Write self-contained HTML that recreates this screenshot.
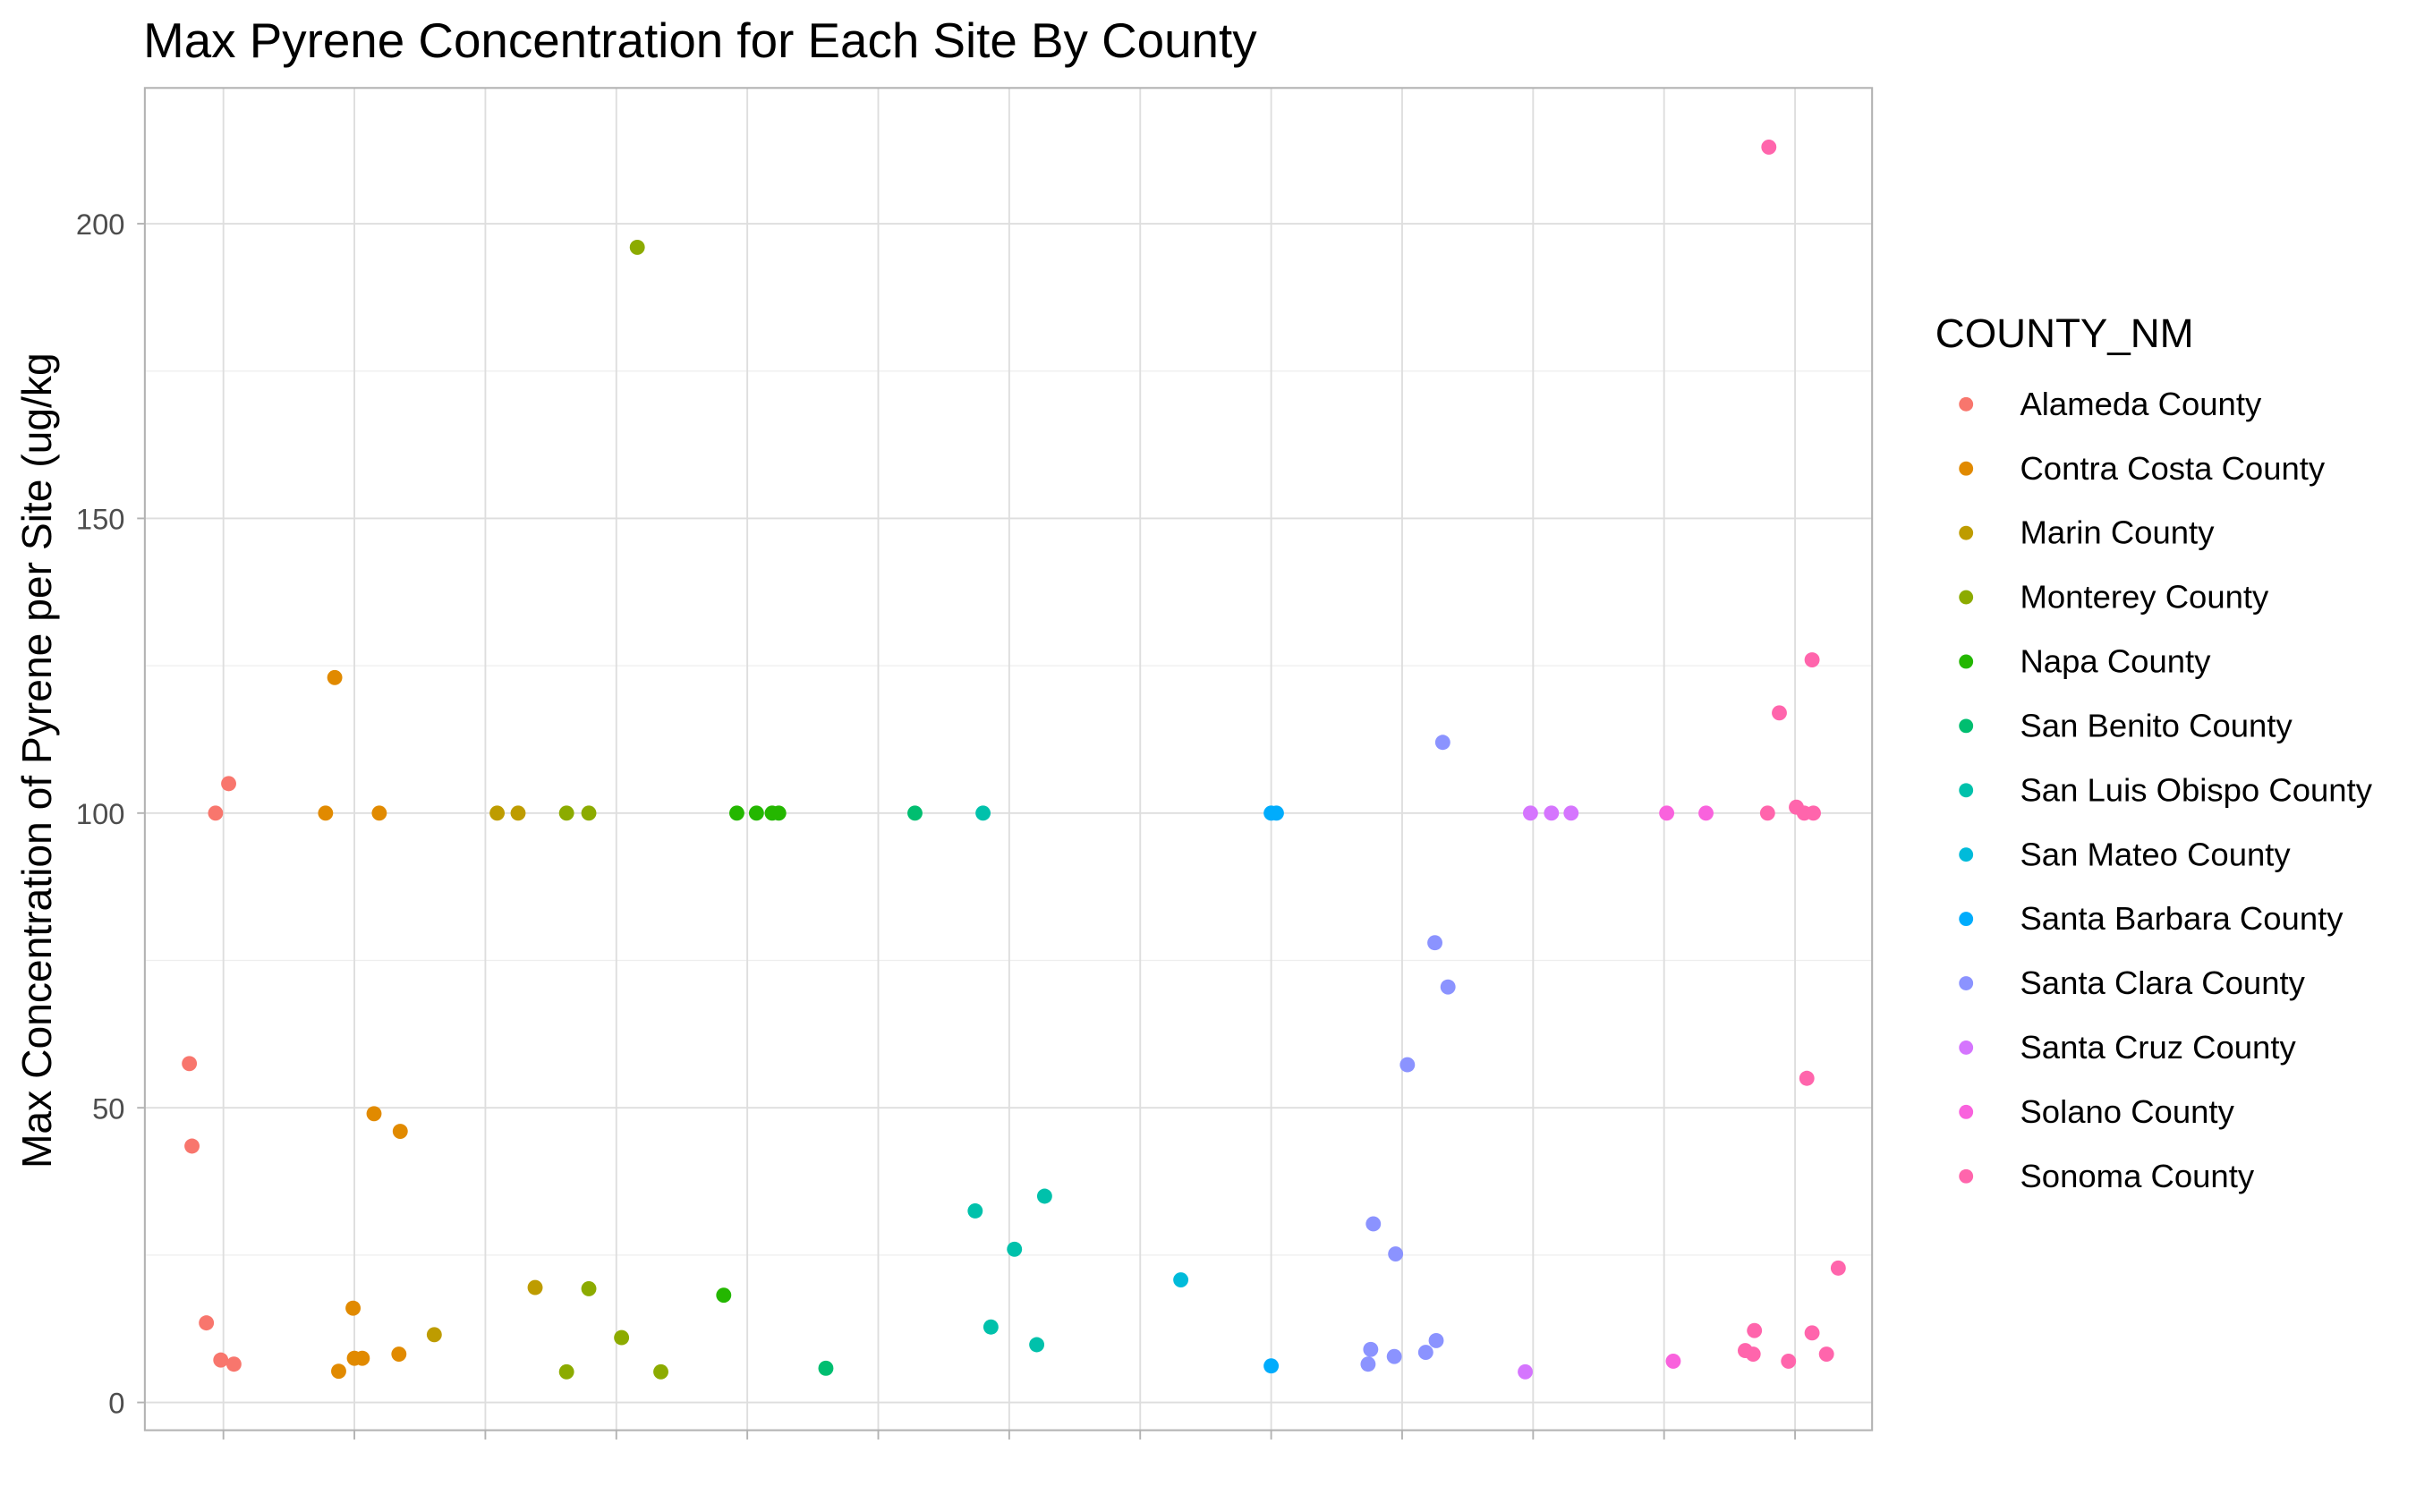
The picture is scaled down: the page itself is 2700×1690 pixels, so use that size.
<!DOCTYPE html>
<html><head><meta charset="utf-8"><style>
html,body{margin:0;padding:0;background:#fff;}
svg{display:block;font-family:"Liberation Sans",Arial,sans-serif;}
</style></head><body>
<svg id="chart" width="2700" height="1690" viewBox="0 0 1568 980" preserveAspectRatio="none" xmlns="http://www.w3.org/2000/svg">
<rect width="1568" height="981" fill="#fff"/>
<text x="93" y="37" font-size="31.8" fill="#000">Max Pyrene Concentration for Each Site By County</text>
<g id="grid"></g>
<g id="points"></g>
<rect x="94" y="57" width="1121" height="870" fill="none" stroke="#b3b3b3" stroke-width="1.2"/>
<g id="axes"></g>
<text transform="translate(33,493) rotate(-90)" text-anchor="middle" font-size="26.8" fill="#000">Max Concentration of Pyrene per Site (ug/kg</text>
<g id="legend">
<text x="1256" y="225" font-size="26.5" fill="#000">COUNTY_NM</text>
</g>
</svg>
<script>
const categories = ["Alameda County","Contra Costa County","Marin County","Monterey County","Napa County","San Benito County","San Luis Obispo County","San Mateo County","Santa Barbara County","Santa Clara County","Santa Cruz County","Solano County","Sonoma County"];
const colors = ["#F8766D","#E18A00","#BE9C00","#8CAB00","#24B700","#00BE70","#00C1AB","#00BBDA","#00ACFC","#8B93FF","#D575FE","#F962DD","#FF65AC"];
const yTicks = [0,50,100,150,200];
// each point: category index, jitter (category units), value
const pointCat = [0,0,0,0,0,0,0, 1,1,1,1,1,1,1,1,1,1, 2,2,2,2, 3,3,3,3,3,3,3, 4,4,4,4,4, 5,5, 6,6,6,6,6,6, 7, 8,8,8, 9,9,9,9,9,9,9,9,9,9,9, 10,10,10,10, 11,11,11, 12,12,12,12,12,12,12,12,12,12,12,12,12,12,12];
const pointJitter = [-0.26,-0.24,-0.13,-0.02,0.08,-0.06,0.04, -0.15,-0.22,0.19,0.15,0.35,-0.01,-0.12,0.0,0.06,0.34, 0.09,0.25,0.38,-0.39, -0.38,-0.21,0.16,-0.38,-0.21,0.04,0.34, -0.08,0.07,0.19,0.24,-0.18, 0.28,-0.40, -0.2,-0.26,0.04,-0.14,0.21,0.27, 0.31, 0.0,0.04,0.0, 0.31,0.25,0.35,0.04,-0.22,-0.05,-0.24,-0.26,-0.06,0.18,0.26, -0.02,0.14,0.29,-0.06, 0.02,0.32,0.07, -0.2,0.13,-0.12,-0.21,0.01,0.07,0.14,0.09,0.33,-0.31,0.13,-0.38,-0.32,-0.05,0.24];
const pointValue = [57.5,43.5,13.5,7.2,6.5,100,105, 123,100,100,49,46,16,5.3,7.5,7.5,8.2, 100,100,19.5,11.5, 100,100,196,5.2,19.3,11,5.2, 100,100,100,100,18.2, 100,5.8, 100,32.5,26,12.8,9.8,35, 20.8, 100,100,6.2, 112,78,70.5,57.3,30.3,25.2,9,6.5,7.8,8.5,10.5, 100,100,100,5.2, 100,100,7, 213,126,117,100,101,100,100,55,22.8,12.2,11.8,8.8,8.2,7,8.2];

const NS="http://www.w3.org/2000/svg";
const x0=145, dx=85, yBase=909, yScale=(909-145)/200;
function xPos(c,j){return x0+(c+j)*dx;}
function yPos(v){return yBase-v*yScale;}
function mk(tag,attrs,parent){const e=document.createElementNS(NS,tag);for(const k in attrs)e.setAttribute(k,attrs[k]);parent.appendChild(e);return e;}
const grid=document.getElementById('grid'), pts=document.getElementById('points'), axes=document.getElementById('axes'), leg=document.getElementById('legend');
for(let i=0;i<yTicks.length-1;i++){const v=(yTicks[i]+yTicks[i+1])/2;
 const l=mk('line',{x1:94,x2:1215,y1:yPos(v),y2:yPos(v),stroke:'#eeeeee','stroke-width':0.7},grid);
 
 }
yTicks.forEach(v=>{const l=mk('line',{x1:94,x2:1215,y1:yPos(v),y2:yPos(v),stroke:'#dedede','stroke-width':1.1},grid);
 
 
 const t=mk('text',{x:81,y:yPos(v)+7,'text-anchor':'end','font-size':19,fill:'#4d4d4d'},axes);t.textContent=v;
 
 
 const tk=mk('line',{x1:89,x2:94,y1:yPos(v),y2:yPos(v),stroke:'#b3b3b3','stroke-width':1.1},axes);
 
 });
categories.forEach((c,i)=>{const x=xPos(i,0);
 const l=mk('line',{x1:x,x2:x,y1:57,y2:927,stroke:'#dedede','stroke-width':1.1},grid);
 
 
 const tk=mk('line',{x1:x,x2:x,y1:927,y2:933,stroke:'#b3b3b3','stroke-width':1.1},axes);
 
 });
pointValue.forEach((v,i)=>{const c=pointCat[i];
 const p=mk('circle',{cx:xPos(c,pointJitter[i]),cy:yPos(v),r:4.9,fill:colors[c]},pts);
 
 });
categories.forEach((c,i)=>{const y=262+i*41.7;
 const g=mk('g',{},leg);
 
 
 mk('circle',{cx:1276,cy:y,r:4.6,fill:colors[i]},g);
 const t=mk('text',{x:1311,y:y+7,'font-size':21.2,fill:'#000'},g);t.textContent=c;});
</script>
</body></html>
